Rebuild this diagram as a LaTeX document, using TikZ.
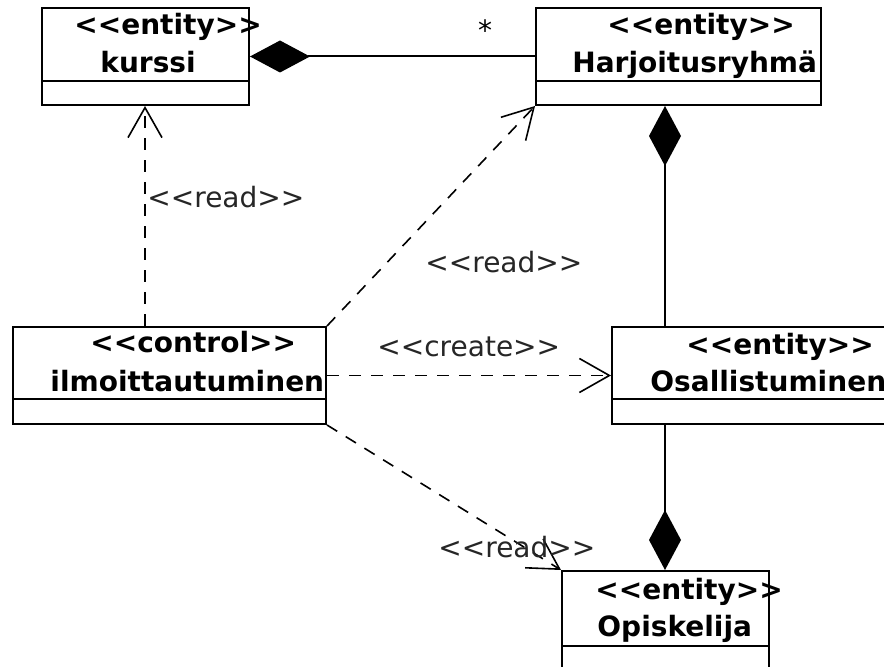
\documentclass[tikz,border=0pt]{standalone}
\usepackage{fontspec}
\setmainfont{DejaVu Sans}
\usetikzlibrary{arrows.meta}
% stereotype text with guillemet-free angle brackets
\newcommand\stereo[1]{<\kern0pt<#1>\kern0pt>}
\begin{document}
\begin{tikzpicture}[x=0.5pt,y=-0.5pt,
  classbox/.style={draw, line width=1pt, inner sep=0pt},
  ttl/.style={anchor=base west, inner sep=0pt, font=\fontsize{14}{16}\selectfont\bfseries},
  lbl/.style={anchor=base west, inner sep=0pt, font=\fontsize{14}{16}\selectfont, text=black!85},
  comp/.style={line width=1pt, -{Diamond[length=30pt,width=16pt]}},
  dep/.style={line width=0.8pt, dash pattern=on 6pt off 5pt,
    -{Straight Barb[length=15pt,width=17pt,line width=0.8pt]}}]
  \clip (0,0) rectangle (884,667);
  \fill[white] (0,0) rectangle (884,667);

  % class boxes
  \node[classbox, minimum width=103.5pt, minimum height=48.5pt] (kurssi) at (145.5,56.5) {};
  \node[classbox, minimum width=142.5pt, minimum height=48.5pt] (harj) at (678.5,56.5) {};
  \node[classbox, minimum width=156.5pt, minimum height=48.5pt] (ctl) at (169.5,375.5) {};
  \node[classbox, minimum width=144pt, minimum height=48.5pt] (osal) at (756,375.5) {};
  \node[classbox, minimum width=103.5pt, minimum height=64.5pt] (opis) at (665.5,635.5) {};

  % compartment separators
  \draw[line width=1pt] (kurssi.west |- 0,81) -- (kurssi.east |- 0,81);
  \draw[line width=1pt] (harj.west |- 0,81) -- (harj.east |- 0,81);
  \draw[line width=1pt] (ctl.west |- 0,399) -- (ctl.east |- 0,399);
  \draw[line width=1pt] (osal.west |- 0,399) -- (osal.east |- 0,399);
  \draw[line width=1pt] (opis.west |- 0,646) -- (opis.east |- 0,646);

  % class titles
  \node[ttl] (t1) at (74,35) {\stereo{entity}};
  \node[ttl] (n1) at (100,73) {kurssi};
  \node[ttl] (t2) at (607,35) {\stereo{entity}};
  \node[ttl] (n2) at (572,73) {Harjoitusryhmä};
  \node[ttl] (t3) at (90,353) {\stereo{control}};
  \node[ttl] (n3) at (50,392) {ilmoittautuminen};
  \node[ttl] (t4) at (686,355) {\stereo{entity}};
  \node[ttl] (n4) at (650,392) {Osallistuminen};
  \node[ttl] (t5) at (595,600) {\stereo{entity}};
  \node[ttl] (n5) at (597,637) {Opiskelija};

  % compositions
  \coordinate (cx) at (665,0);
  \coordinate (kx) at (145,0);
  \draw[comp] (harj.west) -- (kurssi.east);
  \draw[comp] (osal.north -| cx) -- (harj.south -| cx);
  \draw[comp] (osal.south -| cx) -- (opis.north -| cx);
  \node[font=\fontsize{14}{16}\selectfont, inner sep=0pt] (mult) at (485,30) {*};

  % dependencies
  \draw[dep] (ctl.north -| kx) -- (kurssi.south -| kx);
  \draw[dep] (ctl.north east) -- (harj.south west);
  \draw[dep] (ctl.east) -- (osal.west);
  \draw[dep] (ctl.south east) -- (opis.north west);

  \node[lbl] (l1) at (147,208) {\stereo{read}};
  \node[lbl] (l2) at (425,273) {\stereo{read}};
  \node[lbl] (l3) at (377,357) {\stereo{create}};
  \node[lbl] (l4) at (438,558) {\stereo{read}};
\end{tikzpicture}
\end{document}
